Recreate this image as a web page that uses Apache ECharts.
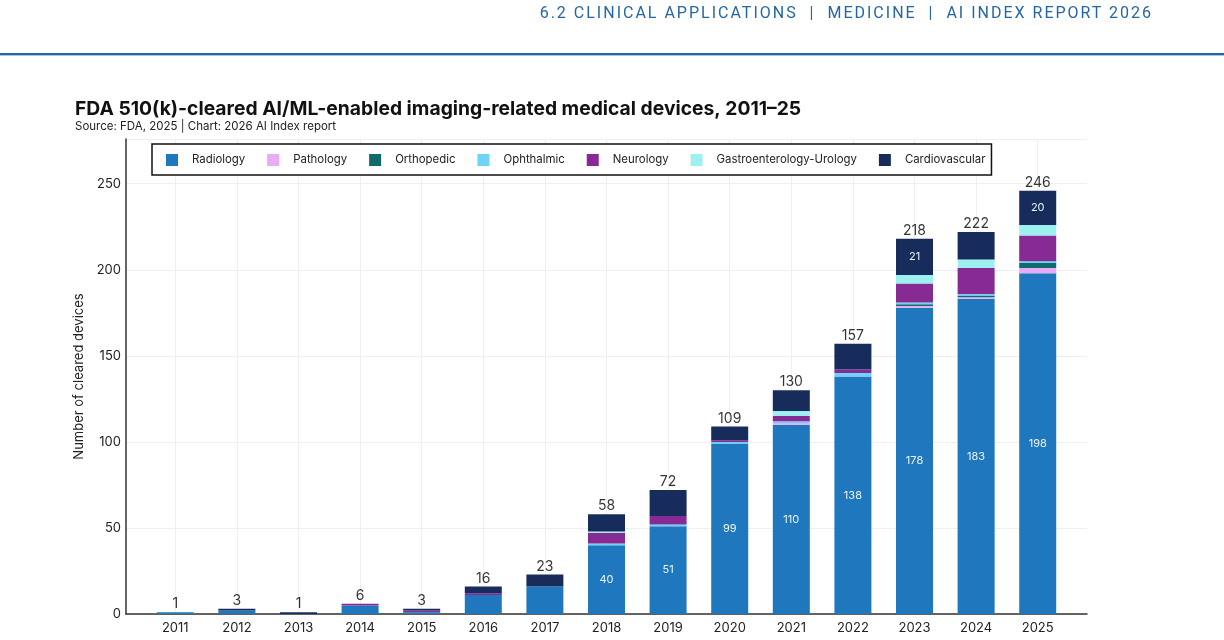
<!DOCTYPE html>
<html>
<head>
<meta charset="utf-8">
<script src="https://cdn.jsdelivr.net/npm/echarts@6/dist/echarts.min.js"></script>
<style>
  html, body { margin: 0; padding: 0; background: #fff; }
  #wrap { position: relative; width: 1224px; height: 640px; overflow: hidden; }
  #header {
    position: absolute; right: 71px; top: 3px;
    font-family: Roboto, "Noto Sans", sans-serif; font-size: 16px;
    letter-spacing: 2px; color: #2466a6; white-space: pre;
  }
  #rule { position: absolute; left: 0; right: 0; top: 53px; height: 2px; background: #2466a6; border-bottom: 1px solid #a9c4e0; }
  #chart { position: absolute; left: 0; top: 0; width: 1224px; height: 640px; }
</style>
</head>
<body>
<div id="wrap">
  <div id="chart"></div>
  <div id="header">6.2 CLINICAL APPLICATIONS  |  MEDICINE  |  AI INDEX REPORT 2026</div>
  <div id="rule"></div>
</div>
<script>
// years on the x axis
const years = ['2011', '2012', '2013', '2014', '2015', '2016', '2017', '2018',
               '2019', '2020', '2021', '2022', '2023', '2024', '2025'];

// cleared devices per specialty, read from the stacks (bottom -> top)
const radiology      = [1, 2, 0, 5, 1, 11, 16, 40, 51, 99, 110, 138, 178, 183, 198];
const pathology      = [0, 0, 0, 0, 0, 0, 0, 0, 0, 0, 1, 0, 1, 1, 3];
const orthopedic     = [0, 0, 0, 0, 0, 0, 0, 0, 0, 0, 0, 0, 1, 1, 3];
const ophthalmic     = [0, 0, 0, 0, 0, 0, 0, 1, 1, 1, 1, 2, 1, 1, 1];
const neurology      = [0, 0, 0, 1, 1, 1, 0, 6, 5, 1, 3, 2, 11, 15, 15];
const gastroUrology  = [0, 0, 0, 0, 0, 0, 0, 1, 0, 0, 3, 0, 5, 5, 6];
const cardiovascular = [0, 1, 1, 0, 1, 4, 7, 10, 15, 8, 12, 15, 21, 16, 20];

const yTicks = [0, 50, 100, 150, 200, 250];

const specialties = [
  { name: 'Radiology', data: radiology, color: '#1f78bd', inside: true },
  { name: 'Pathology', data: pathology, color: '#e9aaf6' },
  { name: 'Orthopedic', data: orthopedic, color: '#0f6b6c' },
  { name: 'Ophthalmic', data: ophthalmic, color: '#6dd3fa' },
  { name: 'Neurology', data: neurology, color: '#872a93' },
  { name: 'Gastroenterology-Urology', data: gastroUrology, color: '#9df0f0' },
  { name: 'Cardiovascular', data: cardiovascular, color: '#182c5c', inside: true }
];

const totals = years.map((y, i) => specialties.reduce((s, sp) => s + sp.data[i], 0));
const yearIdx = years.map((y, i) => i);

const font = 'Inter, "Liberation Sans", sans-serif';

// plot frame: the axis runs 0.8 of a band past the first and last year
const frame = { left: 126, right: 137, top: 139, bottom: 26 };
const band = (1224 - frame.left - frame.right) / (years.length + 0.6);
const inset = 0.3 * band;

const series = specialties.map(sp => ({
  name: sp.name,
  type: 'bar',
  stack: 'total',
  xAxisIndex: 1,
  yAxisIndex: 1,
  barWidth: 37,
  // empty segments are skipped
  data: sp.data.map(v => (v === 0 ? '-' : v)),
  itemStyle: { color: sp.color, borderWidth: 0 },
  label: {
    show: !!sp.inside,
    position: 'inside',
    color: '#eef3f9',
    fontSize: 11,
    fontFamily: font,
    formatter: p => (p.value >= 20 ? String(p.value) : '')
  },
  emphasis: { disabled: true }
}));

// totals above each stack
series.push({
  name: 'Total',
  type: 'scatter',
  xAxisIndex: 1,
  yAxisIndex: 1,
  symbolSize: 0,
  data: totals,
  label: {
    show: true,
    position: 'top',
    distance: 1,
    color: '#000',
    fontSize: 14,
    fontFamily: font,
    formatter: p => String(p.value)
  },
  z: 5,
  silent: true
});

const chart = echarts.init(document.getElementById('chart'), null, { renderer: 'canvas' });
chart.setOption({
  backgroundColor: 'transparent',
  animation: false,
  title: {
    text: 'FDA 510(k)-cleared AI/ML-enabled imaging-related medical devices, 2011–25',
    subtext: 'Source: FDA, 2025 | Chart: 2026 AI Index report',
    left: 70,
    top: 95,
    itemGap: 2,
    textStyle: { fontFamily: font, fontSize: 19.3, fontWeight: 'bold', color: '#111' },
    subtextStyle: { fontFamily: font, fontSize: 11.5, color: '#222' }
  },
  legend: {
    data: specialties.map(s => s.name),
    left: 152,
    top: 144,
    icon: 'rect',
    itemWidth: 12,
    itemHeight: 12,
    itemGap: 22,
    padding: [10, 6, 9, 14],
    backgroundColor: '#fff',
    borderColor: '#111',
    borderWidth: 1.5,
    borderRadius: 0,
    itemStyle: { borderWidth: 0 },
    textStyle: { fontFamily: font, fontSize: 11.4, color: '#222', padding: [0, 0, 0, 9] },
    selectedMode: false
  },
  grid: [
    { left: frame.left, right: frame.right, top: frame.top, bottom: frame.bottom },
    { left: frame.left + inset, right: frame.right + inset, top: frame.top, bottom: frame.bottom }
  ],
  xAxis: [
    {
      type: 'value',
      gridIndex: 0,
      min: -0.8,
      max: years.length - 0.2,
      axisLine: { show: true, lineStyle: { color: '#333', width: 1.5 } },
      axisTick: { show: false, customValues: yearIdx },
      axisLabel: {
        customValues: yearIdx,
        formatter: v => years[Math.round(v)],
        color: '#222', fontSize: 13, fontFamily: font, margin: 8
      },
      splitLine: { show: true, lineStyle: { color: '#efefef', width: 1 } }
    },
    {
      type: 'category',
      gridIndex: 1,
      data: years,
      show: false
    }
  ],
  yAxis: [
    {
      type: 'value',
      gridIndex: 0,
      min: 0,
      max: 276,
      interval: 50,
      name: 'Number of cleared devices',
      nameLocation: 'middle',
      nameGap: 27,
      nameTextStyle: { fontFamily: font, fontSize: 13, color: '#222' },
      axisLine: { show: true, onZero: false, lineStyle: { color: '#333', width: 1.5 } },
      axisTick: { show: false },
      axisLabel: {
        customValues: yTicks,
        color: '#222', fontSize: 13, fontFamily: font, margin: 5
      },
      splitLine: { show: true, lineStyle: { color: '#efefef', width: 1 } }
    },
    {
      type: 'value',
      gridIndex: 1,
      min: 0,
      max: 276,
      show: false,
      splitLine: { show: false }
    }
  ],
  series: series
});
</script>
</body>
</html>
